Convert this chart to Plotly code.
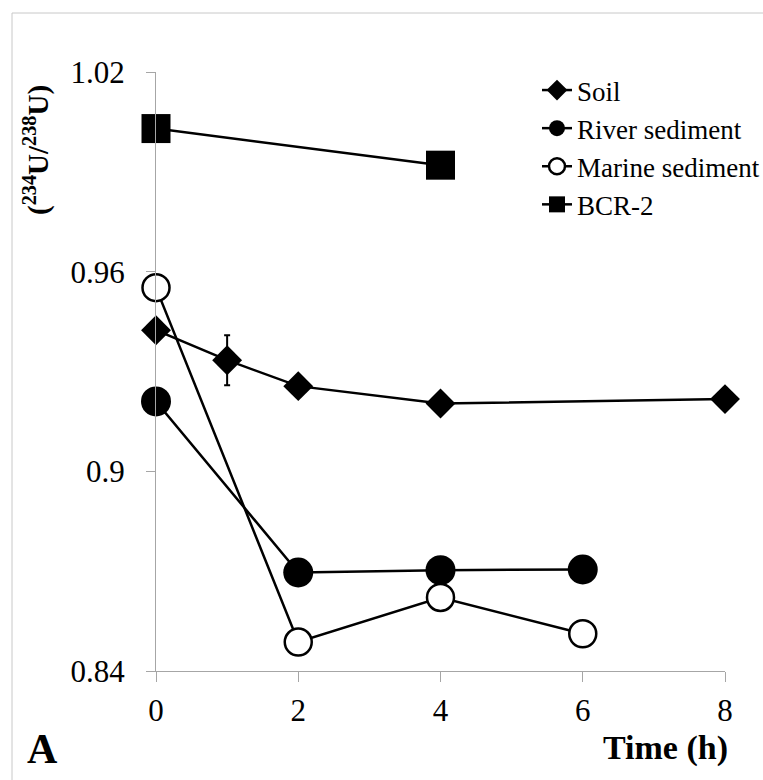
import plotly.graph_objects as go

# ---- data ----
soil_x = [0, 1, 2, 4, 8]
soil_y = [0.9424, 0.9334, 0.9256, 0.9204, 0.9217]
soil_err = [0, 0.0075, 0, 0, 0]

river_x = [0, 2, 4, 6]
river_y = [0.9210, 0.8696, 0.8703, 0.8705]

marine_x = [0, 2, 4, 6]
marine_y = [0.9552, 0.8487, 0.8621, 0.8512]

bcr_x = [0, 4]
bcr_y = [1.0030, 0.9920]

x_ticks = [0, 2, 4, 6, 8]
y_ticks = [0.84, 0.90, 0.96, 1.02]
y_tick_text = ["0.84", "0.9", "0.96", "1.02"]

FONT = "Liberation Serif, Times New Roman, serif"
W, H = 763, 780
ML, MR, MT, MB = 156, 38, 72, 109
PW = W - ML - MR
PH = H - MT - MB


def px(x):
    return (x - ML) / PW


def py(y):
    return (H - MB - y) / PH


line = dict(color="black", width=2.5)

fig = go.Figure()
fig.add_trace(go.Scatter(
    x=soil_x, y=soil_y, name="Soil", mode="lines+markers",
    line=line, cliponaxis=False,
    marker=dict(symbol="diamond", size=23, color="black"),
    error_y=dict(type="data", array=soil_err, visible=True,
                 color="black", thickness=2, width=3),
))
fig.add_trace(go.Scatter(
    x=river_x, y=river_y, name="River sediment", mode="lines+markers",
    line=line, cliponaxis=False,
    marker=dict(symbol="circle", size=30, color="black"),
))
fig.add_trace(go.Scatter(
    x=marine_x, y=marine_y, name="Marine sediment", mode="lines+markers",
    line=line, cliponaxis=False,
    marker=dict(symbol="circle", size=27, color="white",
                line=dict(color="black", width=2.5)),
))
fig.add_trace(go.Scatter(
    x=bcr_x, y=bcr_y, name="BCR-2", mode="lines+markers",
    line=line, cliponaxis=False,
    marker=dict(symbol="square", size=29, color="black"),
))

axis_common = dict(
    showgrid=False, zeroline=False, showline=True,
    linecolor="#a6a6a6", linewidth=1,
    ticks="outside", tickcolor="#a6a6a6", tickwidth=1,
    tickfont=dict(family=FONT, size=31, color="black"),
)

fig.update_xaxes(range=[0, 8], tickvals=x_ticks, ticklen=10,
                 ticklabelstandoff=2, **axis_common)
fig.update_yaxes(range=[0.84, 1.02], tickvals=y_ticks, ticktext=y_tick_text,
                 ticklen=9, ticklabelstandoff=15, **axis_common)

fig.update_layout(
    width=W, height=H, autosize=False,
    margin=dict(l=ML, r=MR, t=MT, b=MB, autoexpand=False),
    paper_bgcolor="white", plot_bgcolor="white",
    showlegend=True,
    legend=dict(x=px(537), y=py(66), xanchor="left", yanchor="top",
                font=dict(family=FONT, size=27, color="black"),
                bgcolor="rgba(0,0,0,0)", itemwidth=30),
    annotations=[
        dict(text="(<sup>234</sup>U/<sup>238</sup>U)", textangle=-90,
             x=px(36), y=py(150), xref="paper", yref="paper",
             xanchor="center", yanchor="middle", showarrow=False,
             font=dict(family=FONT, size=29, color="black", weight="bold")),
        dict(text="<b>Time (h)</b>", x=px(730), y=py(748), xref="paper", yref="paper",
             xanchor="right", yanchor="middle", showarrow=False,
             font=dict(family=FONT, size=34, color="black")),
        dict(text="<b>A</b>", x=px(25), y=py(749), xref="paper", yref="paper",
             xanchor="left", yanchor="middle", showarrow=False,
             font=dict(family=FONT, size=42, color="black")),
    ],
    shapes=[
        dict(type="line", xref="paper", yref="paper",
             x0=px(12), x1=px(12), y0=py(13), y1=py(H),
             line=dict(color="#c8c8c8", width=1)),
        dict(type="line", xref="paper", yref="paper",
             x0=px(12), x1=px(W), y0=py(13), y1=py(13),
             line=dict(color="#c8c8c8", width=1)),
    ],
)

fig.write_html(
    "out.html",
    config={"responsive": False},
    post_script="document.body.style.margin='0';document.body.style.overflow='hidden';",
)
